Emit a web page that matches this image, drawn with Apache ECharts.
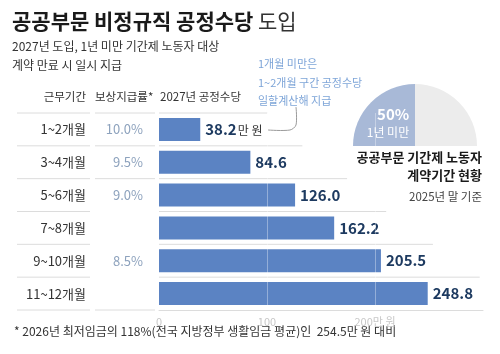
<!DOCTYPE html>
<html>
<head>
<meta charset="utf-8">
<script src="https://cdn.jsdelivr.net/npm/echarts@6/dist/echarts.min.js"></script>
<style>
  html, body { margin: 0; padding: 0; background: #fff; }
  #main { width: 500px; height: 354px; }
</style>
</head>
<body>
<div id="main"></div>
<script>
var periods = ['1~2개월', '3~4개월', '5~6개월', '7~8개월', '9~10개월', '11~12개월'];
var rates = ['10.0%', '9.5%', '9.0%', '', '8.5%', ''];
var allowance = [38.2, 84.6, 126.0, 162.2, 205.5, 248.8];
var contractShare = [
    { name: '1년 미만', value: 50 },
    { name: '1년 이상', value: 50 }
];
var xTicks = [0, 100, 200, 300];

var FONT = '"Noto Sans CJK KR", "Noto Sans", sans-serif';
var chart = echarts.init(document.getElementById('main'));

// 행 구분선 (표 + 막대 영역)
function renderRows(params, api) {
    var i = params.dataIndex;
    var band = api.size([0, 1])[1];
    var top = api.coord([0, i])[1] - band / 2;
    var x0 = api.coord([0, i])[0];
    var barEnd = api.coord([api.value(0), i])[0];
    var style = { stroke: '#dcdcdc', lineWidth: 1 };
    var kids = [];
    kids.push({ type: 'line', shape: { x1: 17, y1: top, x2: 90, y2: top }, style: style });
    if (i < 3) {
        kids.push({ type: 'line', shape: { x1: 95, y1: top, x2: 155, y2: top }, style: style });
    }
    kids.push({ type: 'line', shape: { x1: x0, y1: top, x2: barEnd + (i === 0 ? 67 : 52), y2: top }, style: style });
    if (i === periods.length - 1) {
        var bot = top + band;
        kids.push({ type: 'line', shape: { x1: 17, y1: bot, x2: 90, y2: bot }, style: style });
        kids.push({ type: 'line', shape: { x1: 95, y1: bot, x2: 155, y2: bot }, style: style });
    }
    return { type: 'group', children: kids };
}

var option = {
    animation: false,
    textStyle: { fontFamily: FONT },
    grid: { left: 159, right: 17, top: 113, bottom: 44 },
    xAxis: {
        type: 'value',
        min: 0,
        max: 300,
        interval: 100,
        axisLine: { show: true, lineStyle: { color: '#dcdcdc' } },
        axisTick: { show: false },
        splitLine: { show: false },
        axisLabel: {
            color: '#c8c8c8',
            fontSize: 11,
            margin: 6,
            fontFamily: FONT,
            formatter: function (v) {
                if (v === xTicks[2]) return v + '만 원';
                if (v === xTicks[3]) return '';
                return v;
            }
        }
    },
    yAxis: [{
        type: 'category',
        data: periods,
        inverse: true,
        axisLine: { show: false },
        axisTick: { show: false },
        axisLabel: { margin: 73, color: '#333', fontSize: 13, fontFamily: FONT }
    }, {
        type: 'category',
        data: rates,
        inverse: true,
        position: 'left',
        axisLine: { show: false },
        axisTick: { show: false },
        axisLabel: { margin: 16, color: '#8da2bd', fontSize: 13, fontFamily: FONT }
    }],
    series: [{
        type: 'custom',
        renderItem: renderRows,
        data: allowance.map(function (v, i) { return [v, i]; }),
        encode: { x: 0, y: 1 },
        silent: true,
        z: 1
    }, {
        type: 'bar',
        data: allowance,
        barWidth: 23,
        itemStyle: { color: '#5b83c3' },
        z: 2,
        label: {
            show: true,
            position: 'right',
            distance: 5,
            formatter: function (p) {
                return p.dataIndex === 0 ? '{v|' + p.value.toFixed(1) + '}{u|만 원}' : '{v|' + p.value.toFixed(1) + '}';
            },
            rich: {
                v: { fontSize: 15, fontWeight: 'bold', color: '#1d3a60', fontFamily: FONT },
                u: { fontSize: 12, color: '#333', fontFamily: FONT, padding: [2, 0, 0, 1] }
            }
        },
        markLine: {
            silent: true,
            symbol: 'none',
            label: { show: false },
            lineStyle: { color: 'rgba(255,255,255,0.35)', type: 'solid', width: 1 },
            data: [{ xAxis: xTicks[1] }, { xAxis: xTicks[2] }]
        }
    }, {
        type: 'pie',
        center: [415, 146],
        radius: [0, 62],
        startAngle: 180,
        endAngle: 0,
        clockwise: true,
        silent: true,
        labelLine: { show: false },
        data: [
            {
                name: contractShare[0].name,
                value: contractShare[0].value,
                itemStyle: { color: '#a8b9d7' },
                label: {
                    show: true,
                    position: 'inside',
                    formatter: function (p) { return '{p|' + p.value + '%}\n{n|' + p.name + '}'; },
                    rich: {
                        p: { fontSize: 15, fontWeight: 'bold', color: '#fff', align: 'right', fontFamily: FONT, lineHeight: 19 },
                        n: { fontSize: 12, color: '#fff', align: 'right', fontFamily: FONT, lineHeight: 17 }
                    },
                    offset: [-3, 1]
                }
            },
            {
                name: contractShare[1].name,
                value: contractShare[1].value,
                itemStyle: { color: '#ececec' },
                label: { show: false }
            }
        ]
    }],
    graphic: [
        { type: 'text', x: 12, y: 11, style: { text: '공공부문 비정규직 공정수당', font: 'bold 21px ' + FONT, fill: '#1a1a1a' } },
        { type: 'text', x: 258, y: 11, style: { text: '도입', font: '21px ' + FONT, fill: '#333' } },
        { type: 'text', x: 12, y: 40, style: { text: '2027년 도입, 1년 미만 기간제 노동자 대상', font: '12px ' + FONT, fill: '#333' } },
        { type: 'text', x: 12, y: 59, style: { text: '계약 만료 시 일시 지급', font: '12px ' + FONT, fill: '#333' } },
        { type: 'text', x: 258, y: 55, style: { text: '1개월 미만은\n1~2개월 구간 공정수당\n일할계산해 지급', font: '11px ' + FONT, fill: '#7ea5d8', lineHeight: 18.5 } },
        { type: 'polyline', shape: { points: [[268, 130], [290, 130], [296, 125], [296, 107]], smooth: 0.3 }, style: { stroke: '#9a9a9a', lineWidth: 1, fill: null } },
        { type: 'text', x: 86, y: 91, style: { text: '근무기간', font: '11.5px ' + FONT, fill: '#333', align: 'right' } },
        { type: 'text', x: 95, y: 91, style: { text: '보상지급률*', font: '11.5px ' + FONT, fill: '#333' } },
        { type: 'text', x: 160, y: 91, style: { text: '2027년 공정수당', font: '11.5px ' + FONT, fill: '#333' } },
        { type: 'text', x: 482, y: 151, style: { text: '공공부문 기간제 노동자', font: 'bold 13px ' + FONT, fill: '#1a1a1a', align: 'right' } },
        { type: 'text', x: 482, y: 169, style: { text: '계약기간 현황', font: 'bold 13px ' + FONT, fill: '#1a1a1a', align: 'right' } },
        { type: 'text', x: 482, y: 191, style: { text: '2025년 말 기준', font: '11.5px ' + FONT, fill: '#444', align: 'right' } },
        { type: 'text', x: 14, y: 325, style: { text: '* 2026년 최저임금의 118%(전국 지방정부 생활임금 평균)인  254.5만 원 대비', font: '12px ' + FONT, fill: '#333' } }
    ]
};
chart.setOption(option);
</script>
</body>
</html>
